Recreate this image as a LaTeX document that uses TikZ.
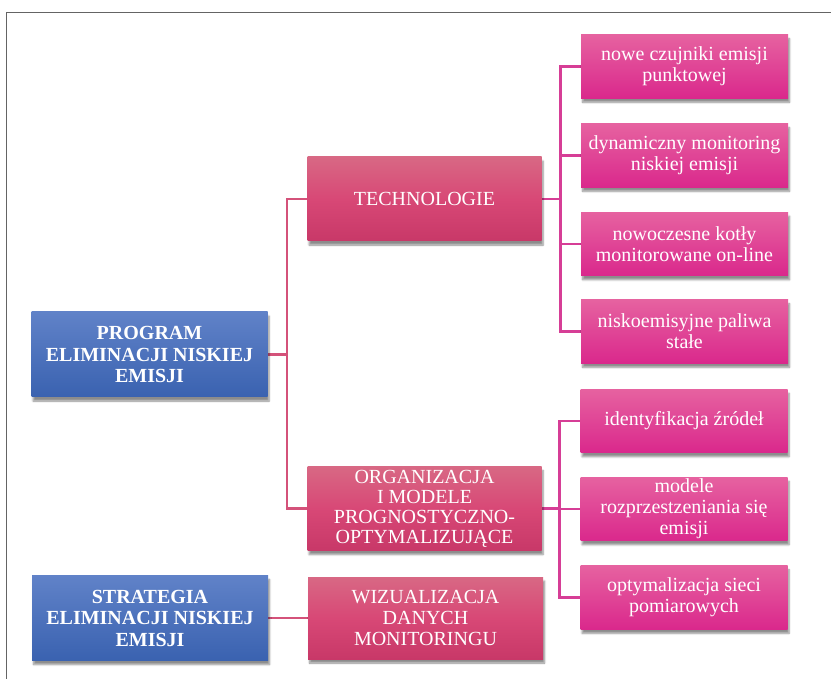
\documentclass[tikz,border=0pt]{standalone}
\usepackage{fontspec}
\setmainfont{Liberation Serif}
\usetikzlibrary{shadows,shadows.blur,backgrounds}
\definecolor{blueT}{RGB}{96,130,200}
\definecolor{blueB}{RGB}{58,98,176}
\definecolor{crimT}{RGB}{216,104,132}
\definecolor{crimM}{RGB}{216,72,118}
\definecolor{crimB}{RGB}{200,56,104}
\definecolor{magT}{RGB}{230,98,160}
\definecolor{magB}{RGB}{218,40,140}
\definecolor{lineCrim}{RGB}{212,82,122}
\definecolor{lineMag}{RGB}{214,62,150}
\definecolor{frameGray}{RGB}{100,100,100}
\tikzset{
  basebox/.style={rectangle, inner sep=0pt, align=center, text=white,
    font=\fontsize{20}{21}\selectfont,
    blur shadow={shadow xshift=1.5pt, shadow yshift=-4pt, shadow blur steps=6, shadow opacity=45}},
  bluebox/.style={basebox, top color=blueT, bottom color=blueB,
    minimum width=236pt, minimum height=85pt, font=\fontsize{20}{21.5}\selectfont\bfseries},
  crimbox/.style={basebox, top color=crimT, bottom color=crimB, middle color=crimM,
    minimum width=234pt, minimum height=84pt},
  magbox/.style={basebox, top color=magT, bottom color=magB,
    minimum width=207pt, minimum height=63.5pt},
  conCrim/.style={draw=lineCrim, line width=2.8pt},
  conMag/.style={draw=lineMag, line width=2.8pt}
}
\begin{document}
\begin{tikzpicture}[x=1pt,y=-1pt]
\useasboundingbox (0,0) rectangle (831,679);
\draw[frameGray, line width=1.6pt] (831,12.5) -- (6.5,12.5) -- (6.5,679);

\node[bluebox] (prog) at (149.5,354.5) {PROGRAM\\ELIMINACJI NISKIEJ\\EMISJI};
\node[bluebox] (strat) at (150,618) {STRATEGIA\\ELIMINACJI NISKIEJ\\EMISJI};

\node[crimbox] (tech) at (424.5,199) {TECHNOLOGIE};
\node[crimbox, font=\fontsize{20}{20}\selectfont] (org) at (424.5,508.5) {ORGANIZACJA\\I MODELE\\PROGNOSTYCZNO-\\OPTYMALIZUJĄCE};
\node[crimbox, minimum width=235pt, minimum height=82pt] (wiz) at (425.5,618) {WIZUALIZACJA\\DANYCH\\MONITORINGU};

\node[magbox] (r1) at (684.5,66.5) {nowe czujniki emisji\\punktowej};
\node[magbox] (r2) at (684.5,155.5) {dynamiczny monitoring\\niskiej emisji};
\node[magbox] (r3) at (684.5,244) {nowoczesne kotły\\monitorowane on-line};
\node[magbox] (r4) at (684.5,331.5) {niskoemisyjne paliwa\\stałe};
\node[magbox] (r5) at (684,421) {identyfikacja źródeł};
\node[magbox] (r6) at (684,509) {modele\\rozprzestzeniania się\\emisji};
\node[magbox] (r7) at (684,597.5) {optymalizacja sieci\\pomiarowych};

\coordinate (b1) at (287,354.5);
\coordinate (b2) at (560.5,199);
\coordinate (b3) at (559.5,508.5);

\begin{scope}[on background layer]
  \draw[conCrim] (prog.east) -- (b1);
  \draw[conCrim] (b1) |- (tech.west);
  \draw[conCrim] (b1) |- (org.west);
  \draw[conCrim] (strat.east) -- (wiz.west);
  \draw[conMag] (tech.east) -- (b2);
  \foreach \r in {r1,r2,r3,r4} { \draw[conMag] (b2) |- (\r.west); }
  \draw[conMag] (org.east) -- (b3);
  \foreach \r in {r5,r6,r7} { \draw[conMag] (b3) |- (\r.west); }
\end{scope}
\end{tikzpicture}
\end{document}
